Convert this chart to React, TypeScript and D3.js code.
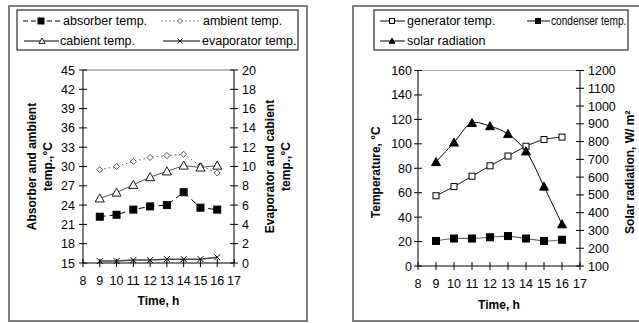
import React from "react";
import * as d3 from "d3";

const hours = [9, 10, 11, 12, 13, 14, 15, 16];
const absorberTemp = [22.2, 22.5, 23.3, 23.8, 24.0, 26.0, 23.6, 23.3];
const ambientTemp = [29.5, 30.0, 30.8, 31.4, 31.7, 31.9, 30.1, 29.0];
const cabientTemp = [6.7, 7.3, 8.1, 8.9, 9.5, 10.1, 9.9, 10.1];
const evaporatorTemp = [0.2, 0.2, 0.3, 0.3, 0.4, 0.4, 0.4, 0.6];

const generatorTemp = [57.5, 65, 73.5, 82, 90, 98, 103.5, 105.5];
const condenserTemp = [20.5, 22.5, 22.5, 23.5, 24.5, 22.5, 20.5, 21.5];
const solarRadiation = [685, 795, 905, 887, 843, 745, 547, 335];

const xTicks = [8, 9, 10, 11, 12, 13, 14, 15, 16, 17];
const leftYTicks = [15, 18, 21, 24, 27, 30, 33, 36, 39, 42, 45];
const leftY2Ticks = [0, 2, 4, 6, 8, 10, 12, 14, 16, 18, 20];
const rightYTicks = [0, 20, 40, 60, 80, 100, 120, 140, 160];
const rightY2Ticks = [100, 200, 300, 400, 500, 600, 700, 800, 900, 1000, 1100, 1200];

const FONT = "Liberation Sans, Arial, sans-serif";

type Pt = [number, number];

function Square({ x, y, s, fill }: { x: number; y: number; s: number; fill: string }) {
  return <rect x={x - s / 2} y={y - s / 2} width={s} height={s} fill={fill} stroke="#000" strokeWidth={1} />;
}
function Diamond({ x, y, s }: { x: number; y: number; s: number }) {
  const h = s / 2;
  return <path d={`M${x},${y - h}L${x + h},${y}L${x},${y + h}L${x - h},${y}Z`} fill="#fff" stroke="#444" strokeWidth={0.9} />;
}
function Tri({ x, y, s, fill }: { x: number; y: number; s: number; fill: string }) {
  const h = s / 2;
  return <path d={`M${x},${y - h}L${x + h},${y + h * 0.8}L${x - h},${y + h * 0.8}Z`} fill={fill} stroke="#000" strokeWidth={0.9} />;
}
function Cross({ x, y, s }: { x: number; y: number; s: number }) {
  const h = s / 2;
  return <path d={`M${x - h},${y - h}L${x + h},${y + h}M${x + h},${y - h}L${x - h},${y + h}`} stroke="#000" strokeWidth={1} />;
}

export default function App() {
  const xL = d3.scaleLinear().domain([8, 17]).range([83, 234]);
  const yL = d3.scaleLinear().domain([15, 45]).range([263, 70]);
  const yL2 = d3.scaleLinear().domain([0, 20]).range([263, 70]);
  const xR = d3.scaleLinear().domain([8, 17]).range([418, 580]);
  const yR = d3.scaleLinear().domain([0, 160]).range([266, 70.5]);
  const yR2 = d3.scaleLinear().domain([100, 1200]).range([266, 70.5]);

  const lineStraight = d3.line<Pt>().x((d) => d[0]).y((d) => d[1]);
  const lineSmooth = d3.line<Pt>().x((d) => d[0]).y((d) => d[1]).curve(d3.curveCatmullRom.alpha(0.5));

  const ptsL = (vals: number[], ys: d3.ScaleLinear<number, number>): Pt[] => hours.map((h, i) => [xL(h), ys(vals[i])]);
  const ptsR = (vals: number[], ys: d3.ScaleLinear<number, number>): Pt[] => hours.map((h, i) => [xR(h), ys(vals[i])]);

  const absPts = ptsL(absorberTemp, yL);
  const ambPts = ptsL(ambientTemp, yL);
  const cabPts = ptsL(cabientTemp, yL2);
  const evaPts = ptsL(evaporatorTemp, yL2);
  const genPts = ptsR(generatorTemp, yR);
  const conPts = ptsR(condenserTemp, yR);
  const solPts = ptsR(solarRadiation, yR2);

  const tickFs = 12.5;
  const legFs = 12.5;

  return (
    <svg width={639} height={323} style={{ position: "absolute", left: 0, top: 0 }} fontFamily={FONT}>
      <rect x={0} y={0} width={639} height={323} fill="#fff" />
      <rect x={9} y={6} width={298} height={315} fill="none" stroke="#555" strokeWidth={1.5} />
      <rect x={353} y={6} width={300} height={315} fill="none" stroke="#555" strokeWidth={1.5} />

      {/* LEFT LEGEND */}
      <rect x={17} y={10} width={281} height={40} fill="none" stroke="#000" strokeWidth={1} />
      <g fontSize={legFs} fill="#000">
        <line x1={23} x2={61} y1={21} y2={21} stroke="#000" strokeWidth={1} strokeDasharray="5,3" />
        <Square x={41} y={21} s={6} fill="#000" />
        <text x={63} y={25}>absorber temp.</text>
        <line x1={161} x2={200} y1={21} y2={21} stroke="#555" strokeWidth={1} strokeDasharray="1.5,2.5" />
        <Diamond x={180} y={21} s={5} />
        <text x={203} y={25}>ambient temp.</text>
        <line x1={24} x2={59} y1={41} y2={41} stroke="#000" strokeWidth={1} />
        <Tri x={42} y={41} s={6} fill="#fff" />
        <text x={60} y={45}>cabient temp.</text>
        <line x1={163} x2={200} y1={41} y2={41} stroke="#000" strokeWidth={1} />
        <Cross x={180} y={41} s={5} />
        <text x={202} y={45}>evaporator temp.</text>
      </g>

      {/* LEFT CHART AXES */}
      <line x1={xL(8)} x2={xL(17)} y1={yL(45)} y2={yL(45)} stroke="#777" strokeWidth={1} />
      <line x1={xL(8)} x2={xL(8)} y1={yL(45)} y2={yL(15)} stroke="#000" strokeWidth={1} />
      <line x1={xL(17)} x2={xL(17)} y1={yL(45)} y2={yL(15)} stroke="#000" strokeWidth={1} />
      <line x1={xL(8)} x2={xL(17)} y1={yL(15)} y2={yL(15)} stroke="#000" strokeWidth={1} />
      <g fontSize={tickFs}>
        {leftYTicks.map((t) => (
          <g key={"ly" + t}>
            <line x1={xL(8) - 4} x2={xL(8) + 4} y1={yL(t)} y2={yL(t)} stroke="#000" />
            <text x={xL(8) - 8} y={yL(t) + 4.5} textAnchor="end">{t}</text>
          </g>
        ))}
        {leftY2Ticks.map((t) => (
          <g key={"ly2" + t}>
            <line x1={xL(17) - 4} x2={xL(17) + 4} y1={yL2(t)} y2={yL2(t)} stroke="#000" />
            <text x={xL(17) + 8} y={yL2(t) + 4.5} textAnchor="start">{t}</text>
          </g>
        ))}
        {xTicks.map((t) => (
          <g key={"lx" + t}>
            <line x1={xL(t)} x2={xL(t)} y1={yL(15) - 4} y2={yL(15) + 4} stroke="#000" />
            <text x={xL(t)} y={yL(15) + 22} textAnchor="middle">{t}</text>
          </g>
        ))}
      </g>
      <g fontSize={12} fontWeight="bold">
        <text transform={`translate(36,${yL(30)}) rotate(-90)`} textAnchor="middle">Absorber and ambient</text>
        <text transform={`translate(52,${yL(30)}) rotate(-90)`} textAnchor="middle">temp.,°C</text>
        <text transform={`translate(274,${yL(30)}) rotate(-90)`} textAnchor="middle">Evaporator and cabient</text>
        <text transform={`translate(290,${yL(30)}) rotate(-90)`} textAnchor="middle">temp.,°C</text>
        <text x={(xL(8) + xL(17)) / 2} y={305} textAnchor="middle">Time, h</text>
      </g>

      {/* Left chart series */}
      <path d={lineStraight(ambPts) || ""} fill="none" stroke="#555" strokeWidth={1} strokeDasharray="1.5,3" />
      <path d={lineStraight(cabPts) || ""} fill="none" stroke="#555" strokeWidth={1} />
      <path d={lineStraight(absPts) || ""} fill="none" stroke="#000" strokeWidth={1} strokeDasharray="6,4" />
      <path d={lineStraight(evaPts) || ""} fill="none" stroke="#444" strokeWidth={1.5} />
      {ambPts.map((p, i) => <Diamond key={"am" + i} x={p[0]} y={p[1]} s={6} />)}
      {cabPts.map((p, i) => <Tri key={"ca" + i} x={p[0]} y={p[1]} s={9} fill="#fff" />)}
      {absPts.map((p, i) => <Square key={"ab" + i} x={p[0]} y={p[1]} s={7} fill="#000" />)}
      {evaPts.map((p, i) => <Cross key={"ev" + i} x={p[0]} y={p[1]} s={6} />)}

      {/* RIGHT LEGEND */}
      <rect x={374} y={10} width={254} height={40} fill="none" stroke="#000" strokeWidth={1} />
      <g fontSize={legFs} fill="#000">
        <line x1={380} x2={405} y1={21} y2={21} stroke="#000" strokeWidth={1} />
        <Square x={392} y={21} s={5} fill="#fff" />
        <text x={407} y={25}>generator temp.</text>
        <line x1={527} x2={550} y1={21} y2={21} stroke="#000" strokeWidth={1} />
        <Square x={538} y={21} s={5} fill="#000" />
        <text transform="translate(551,25) scale(0.81,1)">condenser temp.</text>
        <line x1={380} x2={405} y1={41} y2={41} stroke="#000" strokeWidth={1} />
        <Tri x={392} y={41} s={6} fill="#000" />
        <text x={407} y={45}>solar radiation</text>
      </g>

      {/* RIGHT CHART AXES */}
      <line x1={xR(8)} x2={xR(17)} y1={yR(160)} y2={yR(160)} stroke="#aaa" strokeWidth={1.2} />
      <line x1={xR(8)} x2={xR(8)} y1={yR(160)} y2={yR(0)} stroke="#000" strokeWidth={1} />
      <line x1={xR(17)} x2={xR(17)} y1={yR(160)} y2={yR(0)} stroke="#000" strokeWidth={1} />
      <line x1={xR(8)} x2={xR(17)} y1={yR(0)} y2={yR(0)} stroke="#000" strokeWidth={1} />
      <g fontSize={tickFs}>
        {rightYTicks.map((t) => (
          <g key={"ry" + t}>
            <line x1={xR(8) - 4} x2={xR(8) + 4} y1={yR(t)} y2={yR(t)} stroke="#000" />
            <text x={xR(8) - 6} y={yR(t) + 4.5} textAnchor="end">{t}</text>
          </g>
        ))}
        {rightY2Ticks.map((t) => (
          <g key={"ry2" + t}>
            <line x1={xR(17) - 4} x2={xR(17) + 4} y1={yR2(t)} y2={yR2(t)} stroke="#000" />
            <text x={xR(17) + 8} y={yR2(t) + 4.5} textAnchor="start">{t}</text>
          </g>
        ))}
        {xTicks.map((t) => (
          <g key={"rx" + t}>
            <line x1={xR(t)} x2={xR(t)} y1={yR(0) - 4} y2={yR(0) + 4} stroke="#000" />
            <text x={xR(t)} y={yR(0) + 21.5} textAnchor="middle">{t}</text>
          </g>
        ))}
      </g>
      <g fontSize={12} fontWeight="bold">
        <text transform={`translate(380,${yR(80) + 4}) rotate(-90)`} textAnchor="middle">Temperature, °C</text>
        <text transform={`translate(634,${yR(80) + 4}) rotate(-90)`} textAnchor="middle">Solar radiation, W/ m²</text>
        <text x={(xR(8) + xR(17)) / 2} y={309} textAnchor="middle">Time, h</text>
      </g>

      {/* Right chart series */}
      <path d={lineSmooth(conPts) || ""} fill="none" stroke="#666" strokeWidth={1.2} />
      <path d={lineSmooth(genPts) || ""} fill="none" stroke="#000" strokeWidth={0.9} />
      <path d={lineSmooth(solPts) || ""} fill="none" stroke="#000" strokeWidth={1} />
      {conPts.map((p, i) => <Square key={"co" + i} x={p[0]} y={p[1]} s={7} fill="#000" />)}
      {genPts.map((p, i) => <Square key={"ge" + i} x={p[0]} y={p[1]} s={6} fill="#fff" />)}
      {solPts.map((p, i) => <Tri key={"so" + i} x={p[0]} y={p[1]} s={9} fill="#000" />)}
    </svg>
  );
}
